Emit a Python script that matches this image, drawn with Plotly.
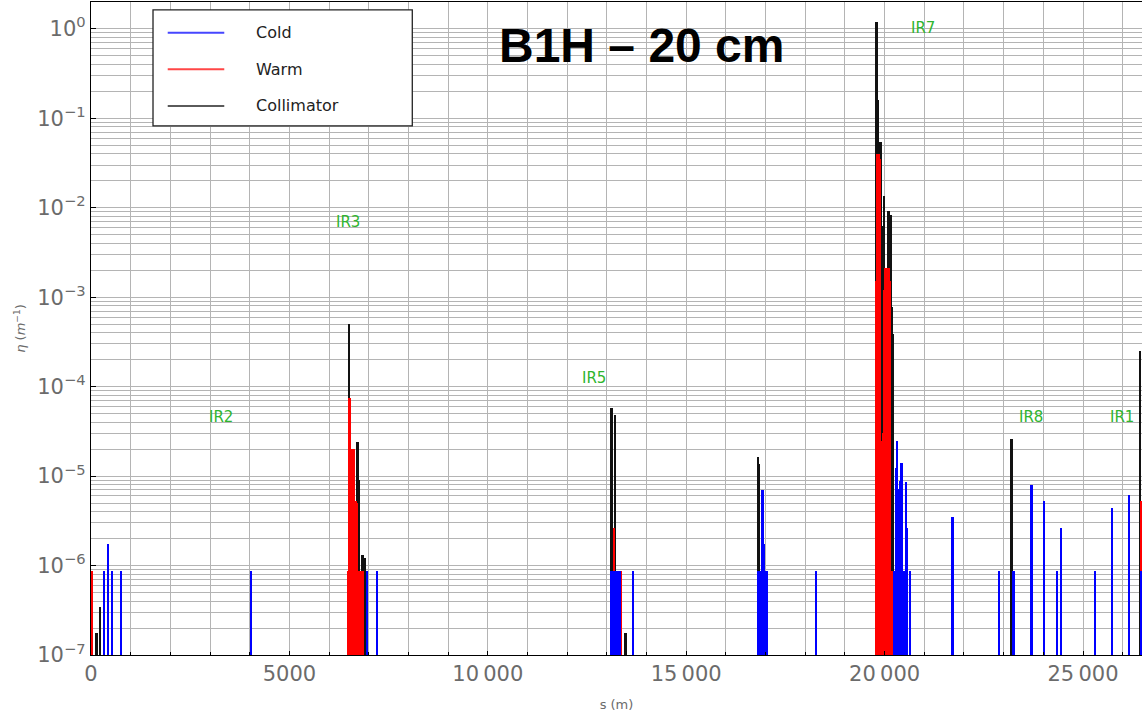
import math
import plotly.graph_objects as go

# ---------------- data ----------------
coll_s = [143, 235, 6502, 6721, 6745, 6762, 6845, 6920,
          13122, 13206, 13475, 16809, 16835,
          19801, 19834, 19902, 19934, 19992, 20103, 20154, 20186, 20219,
          23203, 26444]
coll_eta = [1.76e-7, 3.47e-7, 5.07e-4, 2.4e-5, 9.0e-6, 2.5e-6, 1.3e-6, 1.2e-6,
            5.7e-5, 4.8e-5, 1.75e-7, 1.65e-5, 1.37e-5,
            1.19, 0.162, 0.055, 6.3e-3, 0.0135, 9.3e-3, 8.3e-3, 7.8e-4, 3.9e-4,
            2.6e-5, 2.5e-4]

warm_s = [33,
          6475, 6495, 6512, 6535, 6560, 6585, 6610, 6635, 6660, 6685, 6710,
          6735, 6760, 6785, 6810, 6835, 6855,
          13188, 13357, 16917,
          19790, 19810, 19830, 19850, 19870, 19890, 19910, 19930, 19950, 19970,
          19990, 20010, 20030, 20050, 20070, 20090, 20110, 20130, 20150, 20170,
          20190, 20210, 20230,
          26469]
warm_eta = [8.8e-7,
            8.6e-7, 8.6e-7, 7.4e-5, 7.4e-5, 1.5e-5, 2.0e-5, 1.8e-5, 2.0e-5, 5.3e-6, 5.3e-6, 5.0e-6,
            8.6e-7, 8.6e-7, 8.6e-7, 8.6e-7, 8.6e-7, 8.6e-7,
            2.6e-6, 8.6e-7, 1.74e-6,
            1.5e-3, 3.0e-3, 0.040, 0.040, 0.040, 0.035, 2.5e-5, 2.5e-5, 2.0e-5, 3.0e-5,
            1.2e-3, 1.5e-3, 2.1e-3, 2.1e-3, 2.1e-3, 2.0e-3, 2.1e-3, 1.5e-3, 1.2e-5, 8.6e-7,
            8.6e-7, 8.6e-7, 8.6e-7,
            5.3e-6]

cold_s = [328, 436, 537, 764, 4040, 6963, 7215,
          13125, 13145, 13165, 13185, 13205, 13225, 13245, 13265, 13285, 13305, 13325,
          13667,
          16817, 16840, 16862, 16885, 16905, 16927, 16952, 16975, 16995, 17015, 17030,
          18279,
          20240, 20260, 20287, 20305, 20320, 20345, 20365, 20388, 20410, 20431,
          20450, 20475, 20500, 20520, 20539, 20557, 20640,
          21716, 22883, 23255, 23710, 24025, 24353, 24453, 25310, 25739, 26167, 26469]
cold_eta = [8.6e-7, 1.74e-6, 8.6e-7, 8.6e-7, 8.6e-7, 8.6e-7, 8.6e-7,
            8.6e-7, 8.6e-7, 8.6e-7, 8.6e-7, 8.6e-7, 8.6e-7, 8.6e-7, 8.6e-7, 8.6e-7, 8.6e-7, 8.6e-7,
            8.6e-7,
            8.6e-7, 8.6e-7, 8.6e-7, 8.6e-7, 8.6e-7, 7.0e-6, 1.74e-6, 8.6e-7, 8.6e-7, 8.6e-7, 8.6e-7,
            8.6e-7,
            8.6e-7, 8.6e-7, 1.23e-5, 6.0e-6, 2.5e-5, 7.2e-6, 6.0e-6, 8.9e-6, 5.0e-6, 1.4e-5,
            3.0e-6, 8.6e-7, 8.6e-7, 8.6e-7, 8.7e-6, 2.6e-6, 8.6e-7,
            3.46e-6, 8.6e-7, 8.6e-7, 8.0e-6, 5.3e-6, 8.6e-7, 2.6e-6, 8.6e-7, 4.37e-6, 6.1e-6, 8.6e-7]

ir_names = ["IR2", "IR3", "IR5", "IR7", "IR8", "IR1"]
ir_s = [3276, 6477, 12676, 20968, 23677, 25975]
ir_eta = [4.63e-5, 6.93e-3, 1.25e-4, 1.02, 4.63e-5, 4.63e-5]

series_names = ["Cold", "Warm", "Collimator"]
series_colors = ["#0000ff", "#ff0000", "#111111"]
legend_colors = ["#4646ff", "#ff4646", "#5a5a5a"]

x_tickvals = [0, 5000, 10000, 15000, 20000, 25000]
x_ticktext = ["0", "5000", "10\u2009000", "15\u2009000", "20\u2009000", "25\u2009000"]
y_exponents = [-7, -6, -5, -4, -3, -2, -1, 0]

title_text = "B1H – 20 cm"

# ---------------- figure ----------------
BAR_W = 45
fig = go.Figure()
# drawing order: collimator, warm, cold (cold on top)
for s, v, name, col in [(coll_s, coll_eta, series_names[2], series_colors[2]),
                        (warm_s, warm_eta, series_names[1], series_colors[1]),
                        (cold_s, cold_eta, series_names[0], series_colors[0])]:
    fig.add_trace(go.Bar(x=s, y=v, name=name, width=BAR_W,
                         marker=dict(color=col, line=dict(width=0))))

GRID = "#b4b4b4"
TICKCOL = "#6b6b6b"
FONT = "DejaVu Sans"

y_minor = [m * 10 ** e for e in y_exponents[:-1] for m in range(2, 10)] + [2 * 10 ** 0]

fig.update_layout(
    width=1142, height=714,
    margin=dict(l=91, r=0, t=2, b=59),
    plot_bgcolor="white", paper_bgcolor="white",
    barmode="overlay", bargap=0, showlegend=False,
    font=dict(family=FONT, color=TICKCOL),
)
fig.update_xaxes(
    range=[0, 26487], tickmode="array", tickvals=x_tickvals, ticktext=x_ticktext,
    ticks="inside", ticklen=4, tickcolor="black", tickwidth=1,
    showline=True, linecolor="black", linewidth=1.3, mirror=True,
    showgrid=True, gridcolor=GRID, gridwidth=1, zeroline=False,
    minor=dict(dtick=1000, tick0=0, showgrid=True, gridcolor=GRID, gridwidth=1,
               ticks="inside", ticklen=3, tickcolor="black"),
    tickfont=dict(family=FONT, size=21, color=TICKCOL),
    title=dict(text="s (m)", font=dict(family=FONT, size=13, color=TICKCOL), standoff=14),
)
fig.update_yaxes(
    type="log", range=[-7, 0.30], tickmode="array",
    tickvals=[10 ** e for e in y_exponents],
    ticktext=["10<sup>%s</sup>" % (str(e).replace("-", "\u2212")) for e in y_exponents],
    ticks="inside", ticklen=5, tickcolor="black",
    showline=True, linecolor="black", linewidth=1.3,
    showgrid=True, gridcolor=GRID, gridwidth=1, zeroline=False,
    minor=dict(tickmode="array", tickvals=y_minor, showgrid=True, gridcolor=GRID, gridwidth=1, ticks=""),
    tickfont=dict(family=FONT, size=21, color=TICKCOL),
    title=dict(text="<i>η</i> (<i>m</i><sup>\u22121</sup>)", font=dict(family=FONT, size=13, color=TICKCOL),
               standoff=8),
)

# IR labels
for n, s, v in zip(ir_names, ir_s, ir_eta):
    fig.add_annotation(x=s, y=math.log10(v), xref="x", yref="y", text=n, showarrow=False,
                       xanchor="center", yanchor="middle",
                       font=dict(family=FONT, size=15, color="#2fb52f"))

# title
fig.add_annotation(x=0.5247, y=0.934, xref="paper", yref="paper", text="<b>%s</b>" % title_text,
                   showarrow=False, xanchor="center", yanchor="middle",
                   font=dict(family="Liberation Sans, Arial", size=48, color="black"))

# manual legend box
fig.add_shape(type="rect", xref="paper", yref="paper", x0=0.059, x1=0.3057, y0=0.8102, y1=0.9878,
              line=dict(color="#222222", width=1.3), fillcolor="white", layer="above")
leg_y = [0.953, 0.897, 0.8408]
for name, col, yy in zip(series_names, legend_colors, leg_y):
    fig.add_shape(type="line", xref="paper", yref="paper", x0=0.073, x1=0.1268, y0=yy, y1=yy,
                  line=dict(color=col, width=2), layer="above")
    fig.add_annotation(x=0.1551, y=yy, xref="paper", yref="paper", text=name, showarrow=False,
                       xanchor="left", yanchor="middle",
                       font=dict(family=FONT, size=16, color="#222222"))

fig.write_html("out.html")
